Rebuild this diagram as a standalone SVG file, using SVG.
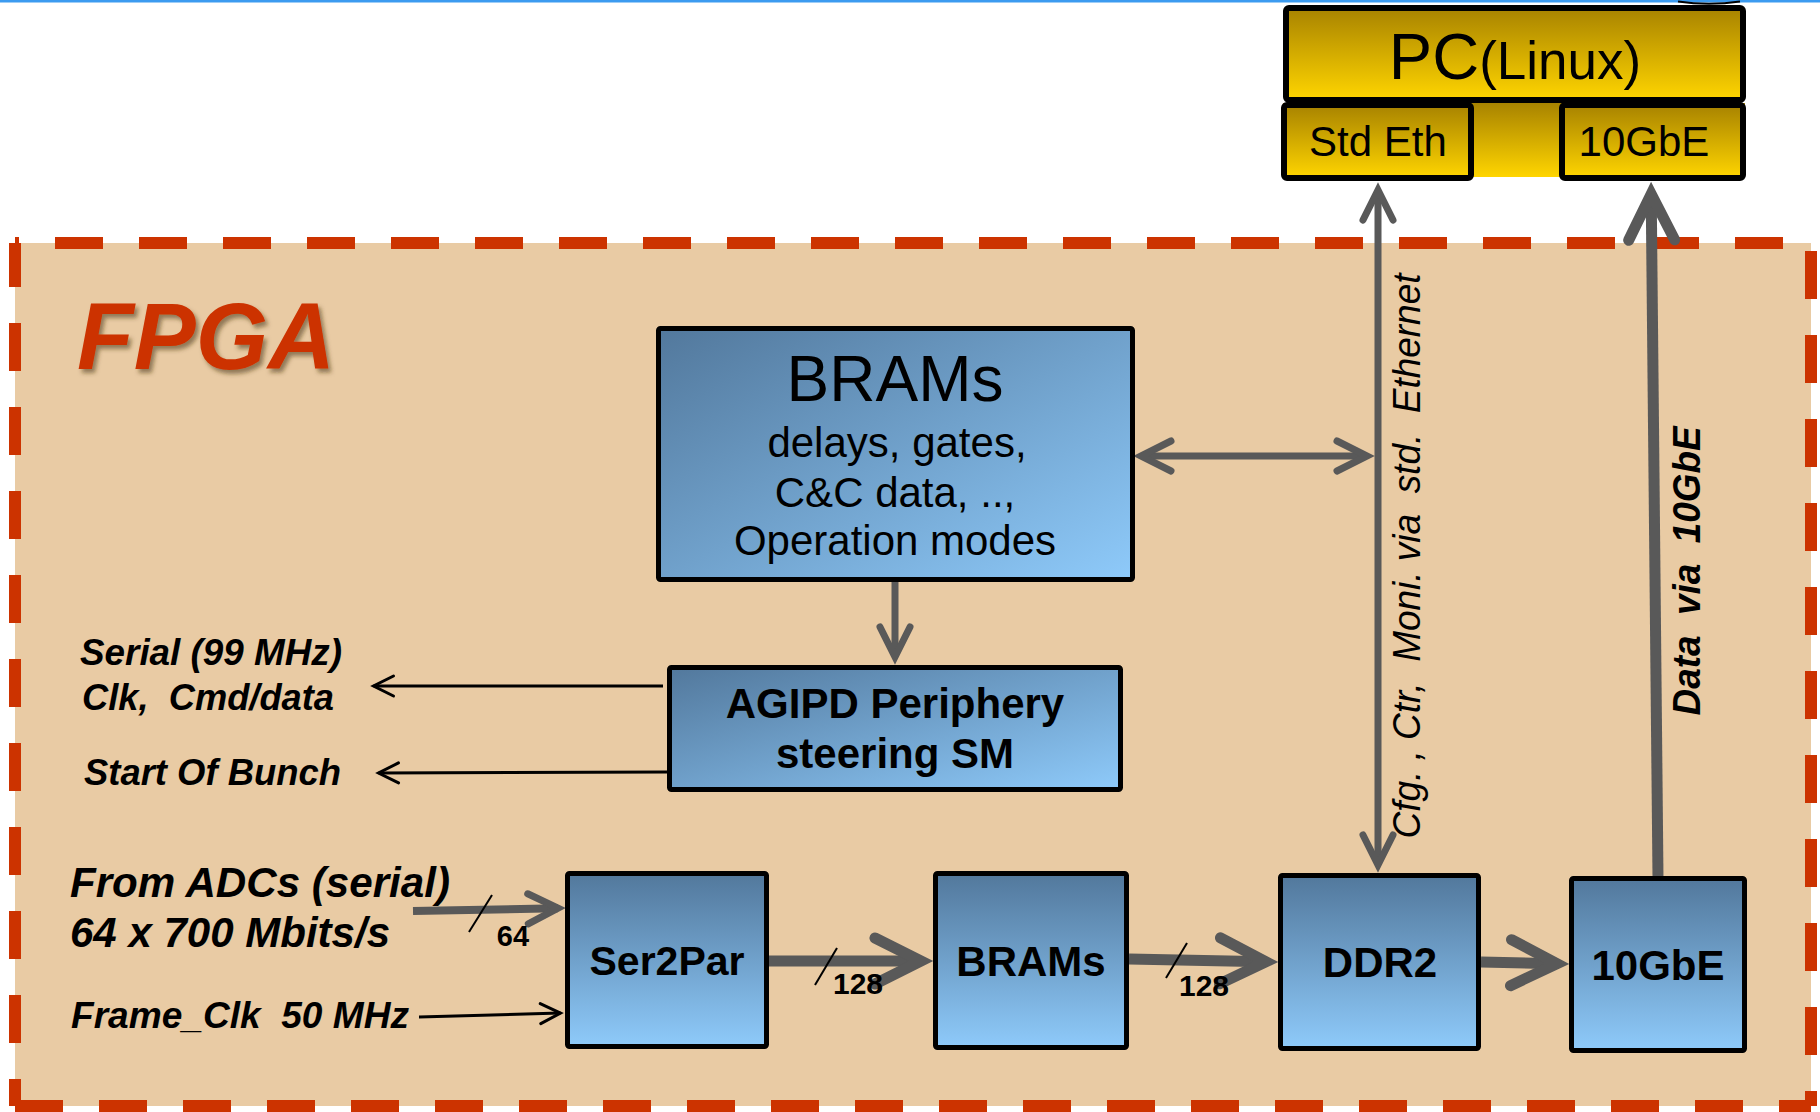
<svg xmlns="http://www.w3.org/2000/svg" width="1820" height="1112" viewBox="0 0 1820 1112">
  <style>
    .sans { font-family: "Liberation Sans", Arial, sans-serif; }
    .box { stroke: #000; stroke-width: 5; }
    .lbl { font-family: "Liberation Sans", Arial, sans-serif; fill: #000; }
    .b { font-weight: bold; }
    .bi { font-weight: bold; font-style: italic; }
    .gl { fill: none; stroke: #595959; stroke-linecap: butt; }
    .thin { fill: none; stroke: #000; stroke-width: 3; }
    .tick { fill: none; stroke: #000; stroke-width: 2; }
    .dash { fill: none; stroke: #CC3300; stroke-width: 12; stroke-dasharray: 48 36; }
  </style>
  <defs>
    <linearGradient id="gold" x1="0" y1="0" x2="0" y2="1">
      <stop offset="0" stop-color="#A88300"/>
      <stop offset="1" stop-color="#FFD500"/>
    </linearGradient>
    <linearGradient id="blueV" x1="0" y1="0" x2="0" y2="1">
      <stop offset="0" stop-color="#52789C"/>
      <stop offset="1" stop-color="#8ECAFA"/>
    </linearGradient>
    <linearGradient id="blueD" x1="0" y1="0" x2="1" y2="1">
      <stop offset="0" stop-color="#52789C"/>
      <stop offset="1" stop-color="#8ECAFA"/>
    </linearGradient>
    <filter id="shadow" x="-10%" y="-10%" width="130%" height="140%">
      <feDropShadow dx="3" dy="4" stdDeviation="2" flood-color="#4a3410" flood-opacity="0.55"/>
    </filter>
    <marker id="chevL" markerUnits="userSpaceOnUse" orient="auto-start-reverse" overflow="visible" markerWidth="1" markerHeight="1" refX="0" refY="0">
      <path d="M-46,-23 L0,0 L-46,23" fill="none" stroke="#595959" stroke-width="11" stroke-linecap="round" stroke-linejoin="miter" stroke-miterlimit="4"/>
    </marker>
    <marker id="chevM" markerUnits="userSpaceOnUse" orient="auto-start-reverse" overflow="visible" markerWidth="1" markerHeight="1" refX="0" refY="0">
      <path d="M-30,-15 L0,0 L-30,15" fill="none" stroke="#595959" stroke-width="7" stroke-linecap="round" stroke-linejoin="miter" stroke-miterlimit="4"/>
    </marker>
    <marker id="chevT" markerUnits="userSpaceOnUse" orient="auto-start-reverse" overflow="visible" markerWidth="1" markerHeight="1" refX="0" refY="0">
      <path d="M-20,-10 L0,0 L-20,10" fill="none" stroke="#000" stroke-width="3" stroke-linecap="round" stroke-linejoin="miter" stroke-miterlimit="4"/>
    </marker>
  </defs>

  <rect width="1820" height="1112" fill="#FFFFFF"/>
  <rect x="0" y="0" width="1820" height="2.5" fill="#3C9BF0"/>
  <path d="M1678,1.5 Q1709,6 1740,1.5" fill="none" stroke="#000" stroke-width="2"/>

  <!-- FPGA region -->
  <g id="fpga">
    <rect x="15" y="243" width="1796" height="863" fill="#E9CBA4"/>
    <path class="dash" d="M15,243 H1811" stroke-dashoffset="44"/>
    <path class="dash" d="M1811,243 V1106" stroke-dashoffset="76"/>
    <path class="dash" d="M15,1106 H1811" stroke-dashoffset="0"/>
    <path class="dash" d="M15,243 V1106" stroke-dashoffset="4"/>
    <text x="77" y="369" class="sans" font-size="95" font-weight="bold" font-style="italic" fill="#CC3300" filter="url(#shadow)" textLength="258" lengthAdjust="spacingAndGlyphs">FPGA</text>
  </g>

  <!-- Connectors -->
  <g id="connectors">
    <path class="gl" stroke-width="7" d="M1378,190 L1378,865" marker-start="url(#chevM)" marker-end="url(#chevM)"/>
    <path class="gl" stroke-width="7" d="M1141,456 L1367,456" marker-start="url(#chevM)" marker-end="url(#chevM)"/>
    <path class="gl" stroke-width="7" d="M895,582 L895,657" marker-end="url(#chevM)"/>
    <path class="thin" d="M663,686 L373.5,686" marker-end="url(#chevT)"/>
    <path class="thin" d="M667,772 L378.5,773" marker-end="url(#chevT)"/>
    <path class="gl" stroke-width="8" d="M413,911 L558,908.2" marker-end="url(#chevM)"/>
    <path class="thin" d="M419,1017 L560.5,1013.1" marker-end="url(#chevT)"/>
    <path class="gl" stroke-width="11" d="M768,961 L921,961" marker-end="url(#chevL)"/>
    <path class="gl" stroke-width="11" d="M1129,959 L1266,961.8" marker-end="url(#chevL)"/>
    <path class="gl" stroke-width="11" d="M1481,962 L1557,963.7" marker-end="url(#chevL)"/>
    <path class="gl" stroke-width="11" d="M1658,878 L1651.2,194" marker-end="url(#chevL)"/>
    <line class="tick" x1="492" y1="895" x2="469" y2="932"/>
    <line class="tick" x1="837" y1="948" x2="815" y2="985"/>
    <line class="tick" x1="1187" y1="943" x2="1166" y2="978"/>
    <text x="513" y="946" class="lbl b" font-size="29" text-anchor="middle">64</text>
    <text x="858" y="994" class="lbl b" font-size="30" text-anchor="middle">128</text>
    <text x="1204" y="996" class="lbl b" font-size="30" text-anchor="middle">128</text>
    <text class="lbl" font-size="38" font-style="italic" text-anchor="middle" transform="translate(1420,556) rotate(-90)" textLength="565" lengthAdjust="spacingAndGlyphs" style="white-space:pre">Cfg. , Ctr,  Moni. via  std.  Ethernet</text>
    <text class="lbl bi" font-size="39" text-anchor="middle" transform="translate(1700,571) rotate(-90)" textLength="289" lengthAdjust="spacingAndGlyphs" style="white-space:pre">Data  via  10GbE</text>
  </g>

  <!-- Side labels -->
  <g id="labels">
    <text x="80" y="665" class="lbl bi" font-size="36" textLength="262" lengthAdjust="spacingAndGlyphs">Serial (99 MHz)</text>
    <text x="82" y="710" class="lbl bi" font-size="36" textLength="252" lengthAdjust="spacingAndGlyphs" style="white-space:pre">Clk,  Cmd/data</text>
    <text x="84" y="785" class="lbl bi" font-size="36" textLength="257" lengthAdjust="spacingAndGlyphs">Start Of Bunch</text>
    <text x="70" y="897" class="lbl bi" font-size="42" textLength="380" lengthAdjust="spacingAndGlyphs">From ADCs (serial)</text>
    <text x="70" y="947" class="lbl bi" font-size="42" textLength="320" lengthAdjust="spacingAndGlyphs">64 x 700 Mbits/s</text>
    <text x="71" y="1028" class="lbl bi" font-size="37" textLength="338" lengthAdjust="spacingAndGlyphs" style="white-space:pre">Frame_Clk  50 MHz</text>
  </g>

  <!-- PC -->
  <g id="pc">
    <rect x="1283" y="103" width="462" height="74" fill="url(#gold)"/>
    <rect x="1286" y="8" width="457" height="92" rx="3" fill="url(#gold)" stroke="#000" stroke-width="6"/>
    <text x="1515" y="79" class="lbl" text-anchor="middle"><tspan font-size="65">PC</tspan><tspan font-size="53">(Linux)</tspan></text>
  </g>
  <g id="pc-stdeth">
    <rect x="1284" y="105" width="187" height="73" rx="3" fill="url(#gold)" stroke="#000" stroke-width="6"/>
    <text x="1378" y="156" class="lbl" font-size="42" text-anchor="middle">Std Eth</text>
  </g>
  <g id="pc-10gbe">
    <rect x="1562" y="105" width="181" height="73" rx="3" fill="url(#gold)" stroke="#000" stroke-width="6"/>
    <text x="1644" y="156" class="lbl" font-size="42" text-anchor="middle">10GbE</text>
  </g>

  <!-- FPGA nodes -->
  <g id="brams-cfg">
    <rect x="658.5" y="328.5" width="474" height="251" rx="2" class="box" fill="url(#blueD)"/>
    <text x="895" y="401" class="lbl" font-size="64" text-anchor="middle">BRAMs</text>
    <text x="897" y="457" class="lbl" font-size="42" text-anchor="middle">delays, gates,</text>
    <text x="895" y="507" class="lbl" font-size="42" text-anchor="middle">C&amp;C data, ..,</text>
    <text x="895" y="555" class="lbl" font-size="42" text-anchor="middle">Operation modes</text>
  </g>
  <g id="agipd">
    <rect x="669.5" y="667.5" width="451" height="122" rx="2" class="box" fill="url(#blueD)"/>
    <text x="895" y="718" class="lbl b" font-size="42" text-anchor="middle">AGIPD Periphery</text>
    <text x="895" y="768" class="lbl b" font-size="42" text-anchor="middle">steering SM</text>
  </g>
  <g id="ser2par">
    <rect x="567.5" y="873.5" width="199" height="173" rx="2" class="box" fill="url(#blueV)"/>
    <text x="667" y="975" class="lbl b" font-size="41" text-anchor="middle">Ser2Par</text>
  </g>
  <g id="brams-buf">
    <rect x="935.5" y="873.5" width="191" height="174" rx="2" class="box" fill="url(#blueV)"/>
    <text x="1031" y="976" class="lbl b" font-size="42" text-anchor="middle">BRAMs</text>
  </g>
  <g id="ddr2">
    <rect x="1280.5" y="875.5" width="198" height="173" rx="2" class="box" fill="url(#blueV)"/>
    <text x="1380" y="977" class="lbl b" font-size="42" text-anchor="middle">DDR2</text>
  </g>
  <g id="gbe">
    <rect x="1571.5" y="878.5" width="173" height="172" rx="2" class="box" fill="url(#blueV)"/>
    <text x="1658" y="980" class="lbl b" font-size="42" text-anchor="middle">10GbE</text>
  </g>
</svg>
